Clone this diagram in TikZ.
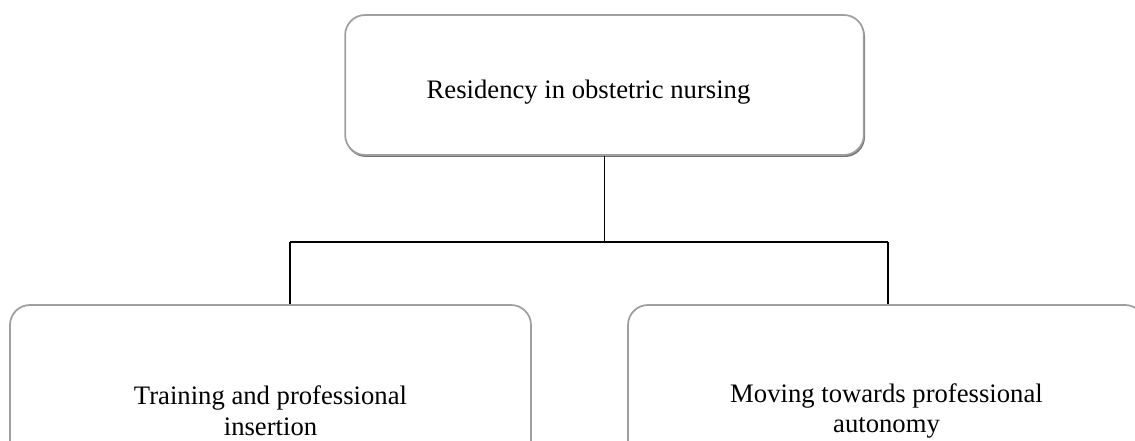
\documentclass[tikz,border=0pt]{standalone}
\usepackage{fontspec}
\setmainfont{Liberation Serif}
\begin{document}
\begin{tikzpicture}[x=0.75pt,y=-0.75pt,
  box/.style={draw=gray!75, line width=1.3pt, rounded corners=15pt, fill=white,
    inner sep=0pt, align=center, font=\fontsize{20}{23}\selectfont},
  link/.style={draw=black, line width=1.1pt}]
\useasboundingbox (0,0) rectangle (1135,441);
\clip (0,0) rectangle (1135,441);
% shadow under the top box
\fill[gray!90!black, rounded corners=15pt] (346,17) rectangle (865,157);
\node[box, minimum width=389pt, minimum height=105pt] (top) at (604.5,85)
  {\hspace*{-24pt}\raisebox{-10pt}[0pt][0pt]{Residency in obstetric nursing}};
\node[box, minimum width=390.75pt, minimum height=150pt] (lb) at (270.5,405)
  {\\[0pt]Training and professional\\insertion};
\node[box, minimum width=387.75pt, minimum height=150pt] (rb) at (886.5,405)
  {\\[0pt]Moving towards professional\\autonomy};
\coordinate (j) at (604.5,242);
\coordinate (lj) at (290,242);
\coordinate (rj) at (888,242);
\draw[link] (top.south) -- (j);
\draw[link] (lj) -- (rj);
\draw[link] (lj) -- (lj |- lb.north);
\draw[link] (rj) -- (rj |- rb.north);
\end{tikzpicture}
\end{document}
